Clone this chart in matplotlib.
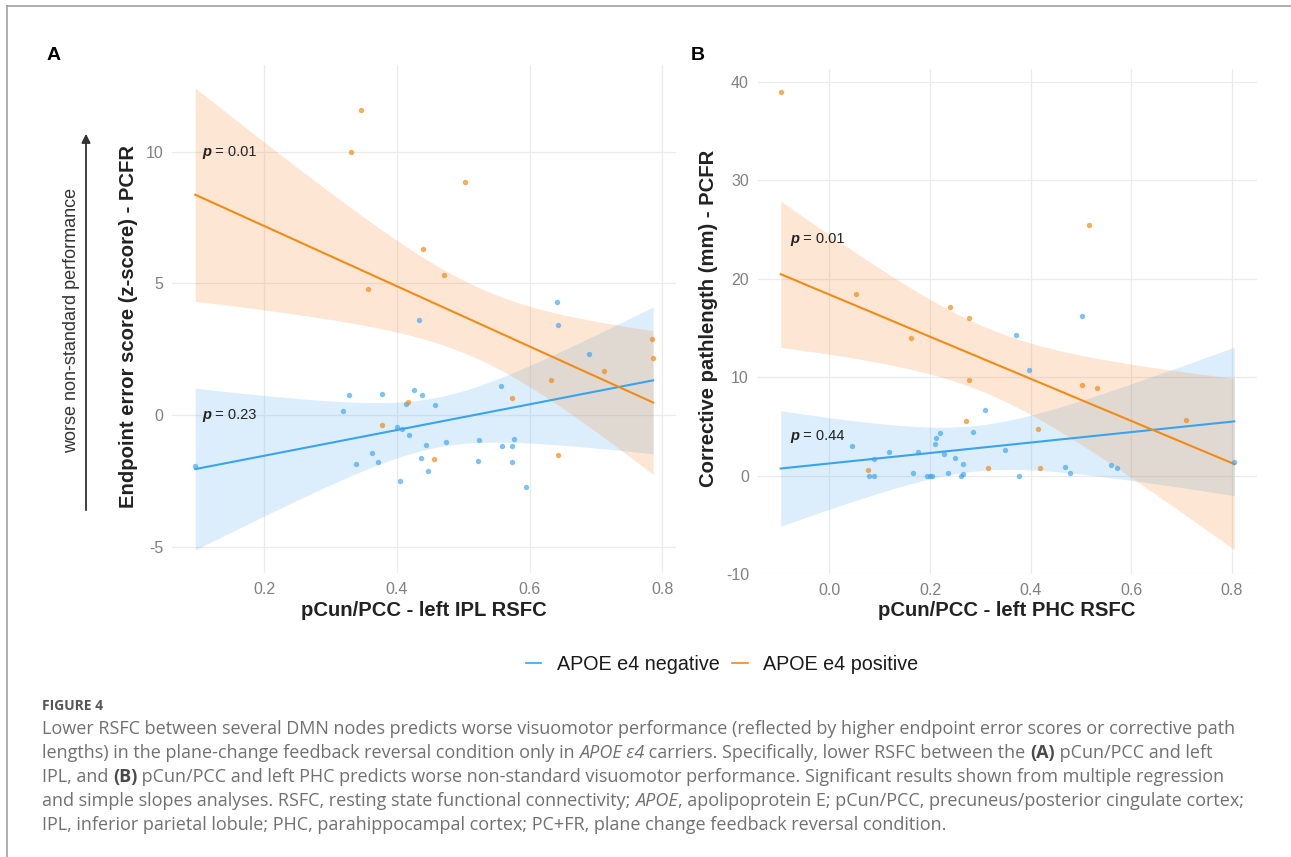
import numpy as np
import matplotlib
matplotlib.use('Agg')
import matplotlib.pyplot as plt
from matplotlib.lines import Line2D

plt.rcParams['font.family'] = ['Liberation Sans', 'DejaVu Sans']
plt.rcParams['axes.unicode_minus'] = False

# ---- data ----
# panel A: pCun/PCC - left IPL RSFC vs endpoint error score
neg_a_x = [0.433, 0.641, 0.642, 0.690, 0.557, 0.327, 0.377, 0.425, 0.438, 0.414, 0.457,
           0.318, 0.400, 0.407, 0.418, 0.474, 0.523, 0.444, 0.577, 0.558, 0.573, 0.362,
           0.436, 0.338, 0.372, 0.522, 0.573, 0.447, 0.405, 0.595, 0.096]
neg_a_y = [3.62, 4.28, 3.43, 2.30, 1.09, 0.76, 0.81, 0.96, 0.77, 0.43, 0.37,
           0.15, -0.46, -0.53, -0.76, -1.01, -0.96, -1.14, -0.91, -1.19, -1.19, -1.46,
           -1.64, -1.88, -1.78, -1.75, -1.79, -2.11, -2.49, -2.74, -1.93]
pos_a_x = [0.345, 0.331, 0.502, 0.439, 0.471, 0.356, 0.784, 0.786, 0.712, 0.632, 0.574,
           0.417, 0.377, 0.456, 0.643]
pos_a_y = [11.58, 9.98, 8.86, 6.30, 5.33, 4.79, 2.89, 2.15, 1.67, 1.32, 0.65,
           0.48, -0.39, -1.67, -1.52]

# panel B: pCun/PCC - left PHC RSFC vs corrective pathlength
neg_b_x = [0.371, 0.503, 0.397, 0.310, 0.285, 0.220, 0.211, 0.210, 0.044, 0.119, 0.176,
           0.349, 0.227, 0.249, 0.088, 0.265, 0.469, 0.560, 0.571, 0.805, 0.167, 0.236,
           0.266, 0.479, 0.078, 0.088, 0.194, 0.199, 0.204, 0.261, 0.377]
neg_b_y = [14.27, 16.18, 10.69, 6.64, 4.40, 4.37, 3.85, 3.21, 3.04, 2.42, 2.42,
           2.60, 2.15, 1.81, 1.64, 1.14, 0.90, 1.07, 0.75, 1.40, 0.25, 0.31,
           0.21, 0.28, 0.0, 0.0, 0.0, 0.0, 0.0, 0.0, 0.0]
pos_b_x = [-0.097, 0.516, 0.053, 0.239, 0.278, 0.163, 0.278, 0.503, 0.531, 0.271, 0.415,
           0.709, 0.076, 0.315, 0.419]
pos_b_y = [39.0, 25.49, 18.42, 17.16, 16.0, 14.03, 9.70, 9.20, 8.95, 5.55, 4.71,
           5.69, 0.58, 0.79, 0.82]

a_xticks = [0.2, 0.4, 0.6, 0.8]
a_yticks = [-5, 0, 5, 10]
b_xticks = [0.0, 0.2, 0.4, 0.6, 0.8]
b_yticks = [-10, 0, 10, 20, 30, 40]

a_pvals = ['0.01', '0.23']
b_pvals = ['0.01', '0.44']

groups = ['APOE e4 negative', 'APOE e4 positive']

BLUE_LINE = '#38a3ef'
ORANGE_LINE = '#f28a14'
BLUE_FILL = '#50aaf0'
ORANGE_FILL = '#f58728'

W, H = 1291, 857


def t975(df):
    # Cornish-Fisher approximation of the t quantile
    z = 1.959964
    return (z + (z**3 + z) / (4 * df)
            + (5 * z**5 + 16 * z**3 + 3 * z) / (96 * df**2)
            + (3 * z**7 + 19 * z**5 + 17 * z**3 - 15 * z) / (384 * df**3))


def interaction_fit(sets, xs):
    # y ~ x * group, pooled residual variance (same as the moderation model)
    fits = []
    sse = 0
    n_tot = 0
    for x, y in sets:
        x = np.asarray(x)
        y = np.asarray(y)
        b1, b0 = np.polyfit(x, y, 1)
        sse += np.sum((y - (b0 + b1 * x)) ** 2)
        n_tot += len(x)
        fits.append((x, b0, b1))
    s = np.sqrt(sse / (n_tot - 2 * len(sets)))
    t = t975(n_tot - 2 * len(sets))
    out = []
    for x, b0, b1 in fits:
        fit = b0 + b1 * xs
        se = s * np.sqrt(1 / len(x) + (xs - x.mean()) ** 2 / np.sum((x - x.mean()) ** 2))
        out.append((fit, fit - t * se, fit + t * se))
    return out


def draw_panel(ax, nx, ny, px, py, xticks, yticks, xfmt):
    all_x = np.concatenate([nx, px])
    xs = np.linspace(all_x.min(), all_x.max(), 100)
    bands = interaction_fit([(nx, ny), (px, py)], xs)
    for (fit, lo, hi), cl, cf in zip(bands, [BLUE_LINE, ORANGE_LINE], [BLUE_FILL, ORANGE_FILL]):
        ax.fill_between(xs, lo, hi, color=cf, alpha=0.2, lw=0)
        ax.plot(xs, fit, color=cl, lw=1.5)
    ax.scatter(nx, ny, s=15, color=BLUE_LINE, alpha=0.65, lw=0, zorder=3)
    ax.scatter(px, py, s=15, color=ORANGE_LINE, alpha=0.7, lw=0, zorder=3)
    ax.set_xticks(xticks)
    ax.set_xticklabels([xfmt.format(v) for v in xticks])
    ax.set_yticks(yticks)
    ax.set_yticklabels([str(v) for v in yticks])
    ax.grid(True, color='#ebebeb', lw=0.9)
    ax.set_axisbelow(True)
    for sp in ax.spines.values():
        sp.set_visible(False)
    ax.tick_params(length=0, pad=6.5, labelsize=11.5, labelcolor='#808080')


def p_label(ax, x, y, val):
    t1 = ax.text(x, y, 'p', fontsize=10.5, fontweight='bold', fontstyle='italic',
                 color='#222222', ha='left', va='center')
    ax.annotate(' = ' + val, xy=(1, 0.5), xycoords=t1, fontsize=10.5, color='#222222',
                ha='left', va='center')


fig = plt.figure(figsize=(W / 100, H / 100), dpi=100)

ax_a = fig.add_axes([172.4 / W, 1 - 573 / H, 503.6 / W, 508 / H])
ax_b = fig.add_axes([758 / W, 1 - 574 / H, 499 / W, 505 / H])

draw_panel(ax_a, neg_a_x, neg_a_y, pos_a_x, pos_a_y, a_xticks, a_yticks, '{:.1f}')
draw_panel(ax_b, neg_b_x, neg_b_y, pos_b_x, pos_b_y, b_xticks, b_yticks, '{:.1f}')

p_label(ax_a, 0.106, 10, a_pvals[0])
p_label(ax_a, 0.106, 0, a_pvals[1])
p_label(ax_b, -0.078, 24, b_pvals[0])
p_label(ax_b, -0.078, 4, b_pvals[1])

# axis titles
title_kw = dict(fontsize=14.6, fontweight='bold', color='#222222', ha='center', va='center')
fig.text(424 / W, 1 - 610 / H, 'pCun/PCC - left IPL RSFC', **title_kw)
fig.text(1007 / W, 1 - 610 / H, 'pCun/PCC - left PHC RSFC', **title_kw)
fig.text(128 / W, 1 - 326 / H, 'Endpoint error score (z-score) - PCFR', rotation=90, **title_kw)
fig.text(709 / W, 1 - 318 / H, 'Corrective pathlength (mm) - PCFR', rotation=90, **title_kw)

fig.text(72 / W, 1 - 320 / H, 'worse non-standard performance', rotation=90, fontsize=13,
         color='#333333', ha='center', va='center')
fig.add_artist(matplotlib.patches.FancyArrowPatch(
    (86 / W, 1 - 513 / H), (86 / W, 1 - 131 / H), transform=fig.transFigure,
    arrowstyle='-|>', mutation_scale=13, color='#333333', lw=1.3))

fig.text(47 / W, 1 - 56 / H, 'A', fontsize=14, fontweight='bold', ha='left', va='center')
fig.text(691 / W, 1 - 56 / H, 'B', fontsize=14, fontweight='bold', ha='left', va='center')

# legend
handles = [Line2D([], [], color=BLUE_LINE, lw=1.2), Line2D([], [], color=ORANGE_LINE, lw=1.2)]
fig.legend(handles, groups, loc='center', bbox_to_anchor=(722 / W, 1 - 664 / H), ncol=2,
           frameon=False, fontsize=14.2, handlelength=0.8, handletextpad=0.8,
           columnspacing=0.6, labelcolor='#1a1a1a')

# page frame
fig.add_artist(Line2D([7 / W, 7 / W], [0, 1 - 6 / H], color='#a0a0a0', lw=1.2,
                      transform=fig.transFigure))
fig.add_artist(Line2D([7 / W, 1], [1 - 6 / H, 1 - 6 / H], color='#a0a0a0', lw=1.2,
                      transform=fig.transFigure))

# caption
cap_font = ['Open Sans', 'DejaVu Sans']
cap_size = 12.95
cap_color = '#707070'
fig.text(42 / W, 1 - 706 / H, 'FIGURE 4', fontsize=10, fontweight='bold', color='#555555',
         family=cap_font, ha='left', va='center')

caption = [
    [('Lower RSFC between several DMN nodes predicts worse visuomotor performance (reflected by '
      'higher endpoint error scores or corrective path', 'n')],
    [('lengths) in the plane-change feedback reversal condition only in ', 'n'), ('APOE ε4', 'i'),
     (' carriers. Specifically, lower RSFC between the ', 'n'), ('(A)', 'b'),
     (' pCun/PCC and left', 'n')],
    [('IPL, and ', 'n'), ('(B)', 'b'),
     (' pCun/PCC and left PHC predicts worse non-standard visuomotor performance. '
      'Significant results shown from multiple regression', 'n')],
    [('and simple slopes analyses. RSFC, resting state functional connectivity; ', 'n'),
     ('APOE', 'i'), (', apolipoprotein E; pCun/PCC, precuneus/posterior cingulate cortex;', 'n')],
    [('IPL, inferior parietal lobule; PHC, parahippocampal cortex; PC+FR, plane change '
      'feedback reversal condition.', 'n')],
]

renderer = fig.canvas.get_renderer()


def seg_props(style):
    props = dict(fontsize=cap_size, family=cap_font, color=cap_color)
    if style == 'i':
        props['fontstyle'] = 'italic'
    if style == 'b':
        props['fontweight'] = 'bold'
        props['color'] = '#4a4a4a'
    return props


def advance(s, props):
    t = fig.text(0, 0, '|' + s + '|', **props)
    w1 = t.get_window_extent(renderer).width
    t.remove()
    t = fig.text(0, 0, '||', **props)
    w2 = t.get_window_extent(renderer).width
    t.remove()
    return w1 - w2


for i, line in enumerate(caption):
    y = 729.3 + 24 * i
    x = 42
    for s, style in line:
        props = seg_props(style)
        fig.text(x / W, 1 - y / H, s, ha='left', va='center', **props)
        x += advance(s, props)

fig.savefig('out.png', dpi=100)
